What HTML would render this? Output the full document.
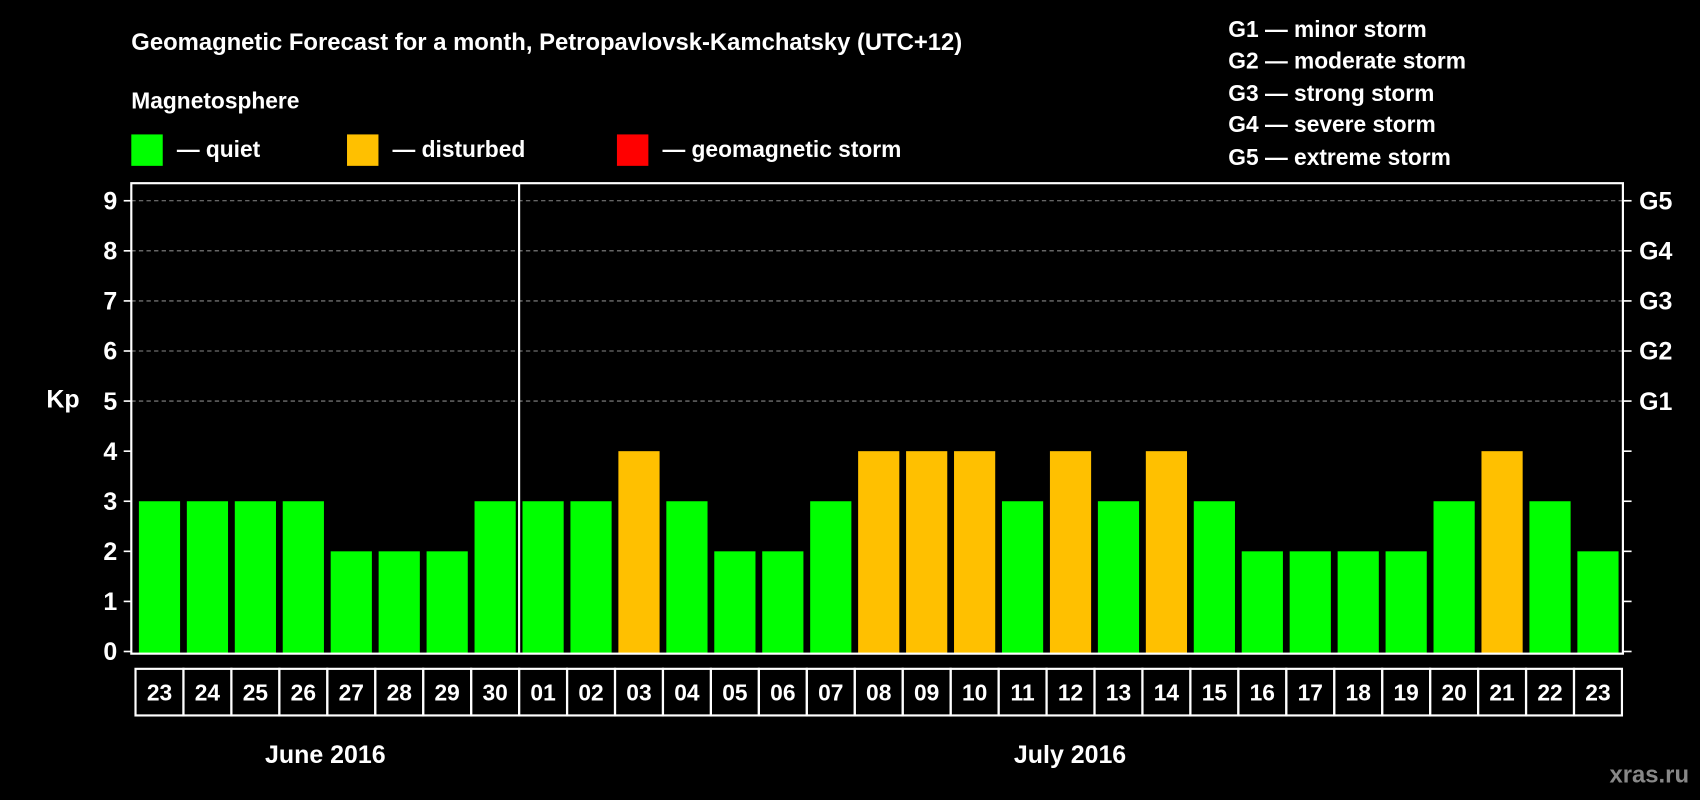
<!DOCTYPE html>
<html><head><meta charset="utf-8"><style>
html,body{margin:0;padding:0;background:#000;}
svg{display:block;font-family:"Liberation Sans",sans-serif;font-weight:bold;}
</style></head><body>
<svg id="chart" width="1700" height="800" viewBox="0 0 1568 738" xmlns="http://www.w3.org/2000/svg">
<rect width="1568" height="738" fill="#000"/>
<text x="121" y="46" fill="#fff" font-size="22">Geomagnetic Forecast for a month, Petropavlovsk-Kamchatsky (UTC+12)</text>
<text x="121" y="100" fill="#fff" font-size="21">Magnetosphere</text>
<g><rect x="121" y="124" width="29" height="29" fill="#00ff00"/><text x="163" y="145" fill="#fff" font-size="21">— quiet</text></g>
<g><rect x="320" y="124" width="29" height="29" fill="#ffc000"/><text x="362" y="145" fill="#fff" font-size="21">— disturbed</text></g>
<g><rect x="569" y="124" width="29" height="29" fill="#ff0000"/><text x="611" y="145" fill="#fff" font-size="21">— geomagnetic storm</text></g>
<g fill="#fff" font-size="21">
<text x="1133" y="34">G1 — minor storm</text>
<text x="1133" y="63">G2 — moderate storm</text>
<text x="1133" y="93">G3 — strong storm</text>
<text x="1133" y="122">G4 — severe storm</text>
<text x="1133" y="152">G5 — extreme storm</text>
</g>
<text x="58" y="376" fill="#fff" font-size="23" text-anchor="middle">Kp</text>
<g id="plot"></g>
<text x="300" y="704" fill="#fff" font-size="23" text-anchor="middle">June 2016</text>
<text x="987" y="704" fill="#fff" font-size="23" text-anchor="middle">July 2016</text>
<text x="1558" y="722" fill="#888" font-size="22" text-anchor="end">xras.ru</text>
</svg>
<script>
const days = ["23","24","25","26","27","28","29","30","01","02","03","04","05","06","07","08","09","10","11","12","13","14","15","16","17","18","19","20","21","22","23"];
const kpValues = [3,3,3,3,2,2,2,3,3,3,4,3,2,2,3,4,4,4,3,4,3,4,3,2,2,2,2,3,4,3,2];
const yTicks = [0,1,2,3,4,5,6,7,8,9];
const gLabels = ["G1","G2","G3","G4","G5"];
const gLevels = [5,6,7,8,9];

const NS="http://www.w3.org/2000/svg";
const g=document.getElementById('plot');
const L=121,R=1497,T=169,B=603;
const y0=601, unit=46.2;
const yScale=v=>y0-v*unit;
const pitch=(1474-147)/30;
const xScale=i=>147+i*pitch;
const bw=38;
function mk(tag,attrs){const e=document.createElementNS(NS,tag);for(const k in attrs)e.setAttribute(k,attrs[k]);g.appendChild(e);return e;}

// grid
gLevels.forEach(v=>{
  const l=mk('line',{x1:L,x2:R,y1:yScale(v),y2:yScale(v),stroke:'#888','stroke-dasharray':'4,3','stroke-width':1});
  
  
});
// bars
kpValues.forEach((v,i)=>{
  const r=mk('rect',{x:xScale(i)-bw/2,y:yScale(v),width:bw,height:yScale(0)-yScale(v)+2,fill:v>=5?'#ff0000':(v>=4?'#ffc000':'#00ff00')});
  
  
});
// frame
const fr=mk('rect',{x:L,y:T,width:R-L,height:B-T,fill:'none',stroke:'#fff','stroke-width':2});


// month divider
const divX=(xScale(7)+xScale(8))/2;
const dv=mk('line',{x1:divX,x2:divX,y1:T,y2:B,stroke:'#fff','stroke-width':2});


// y ticks
yTicks.forEach(v=>{
  const y=yScale(v);
  const t1=mk('line',{x1:L-7,x2:L,y1:y,y2:y,stroke:'#fff','stroke-width':1.5});
  
  
  const t2=mk('line',{x1:R,x2:R+8,y1:y,y2:y,stroke:'#fff','stroke-width':1.5});
  
  
  const tx=mk('text',{x:L-13,y:y+8,fill:'#fff','font-size':23,'text-anchor':'end'});
  tx.textContent=v;
  
  
});
gLabels.forEach((s,i)=>{
  const tx=mk('text',{x:R+15,y:yScale(gLevels[i])+8,fill:'#fff','font-size':23});
  tx.textContent=s;
  
  
});
// date boxes
days.forEach((d,i)=>{
  const x=xScale(i)-pitch/2;
  const r=mk('rect',{x:x,y:617,width:pitch,height:43,fill:'none',stroke:'#fff','stroke-width':2});
  
  
  const tx=mk('text',{x:xScale(i),y:646,fill:'#fff','font-size':21,'text-anchor':'middle'});
  tx.textContent=d;
  
  
});
</script>
</body></html>
